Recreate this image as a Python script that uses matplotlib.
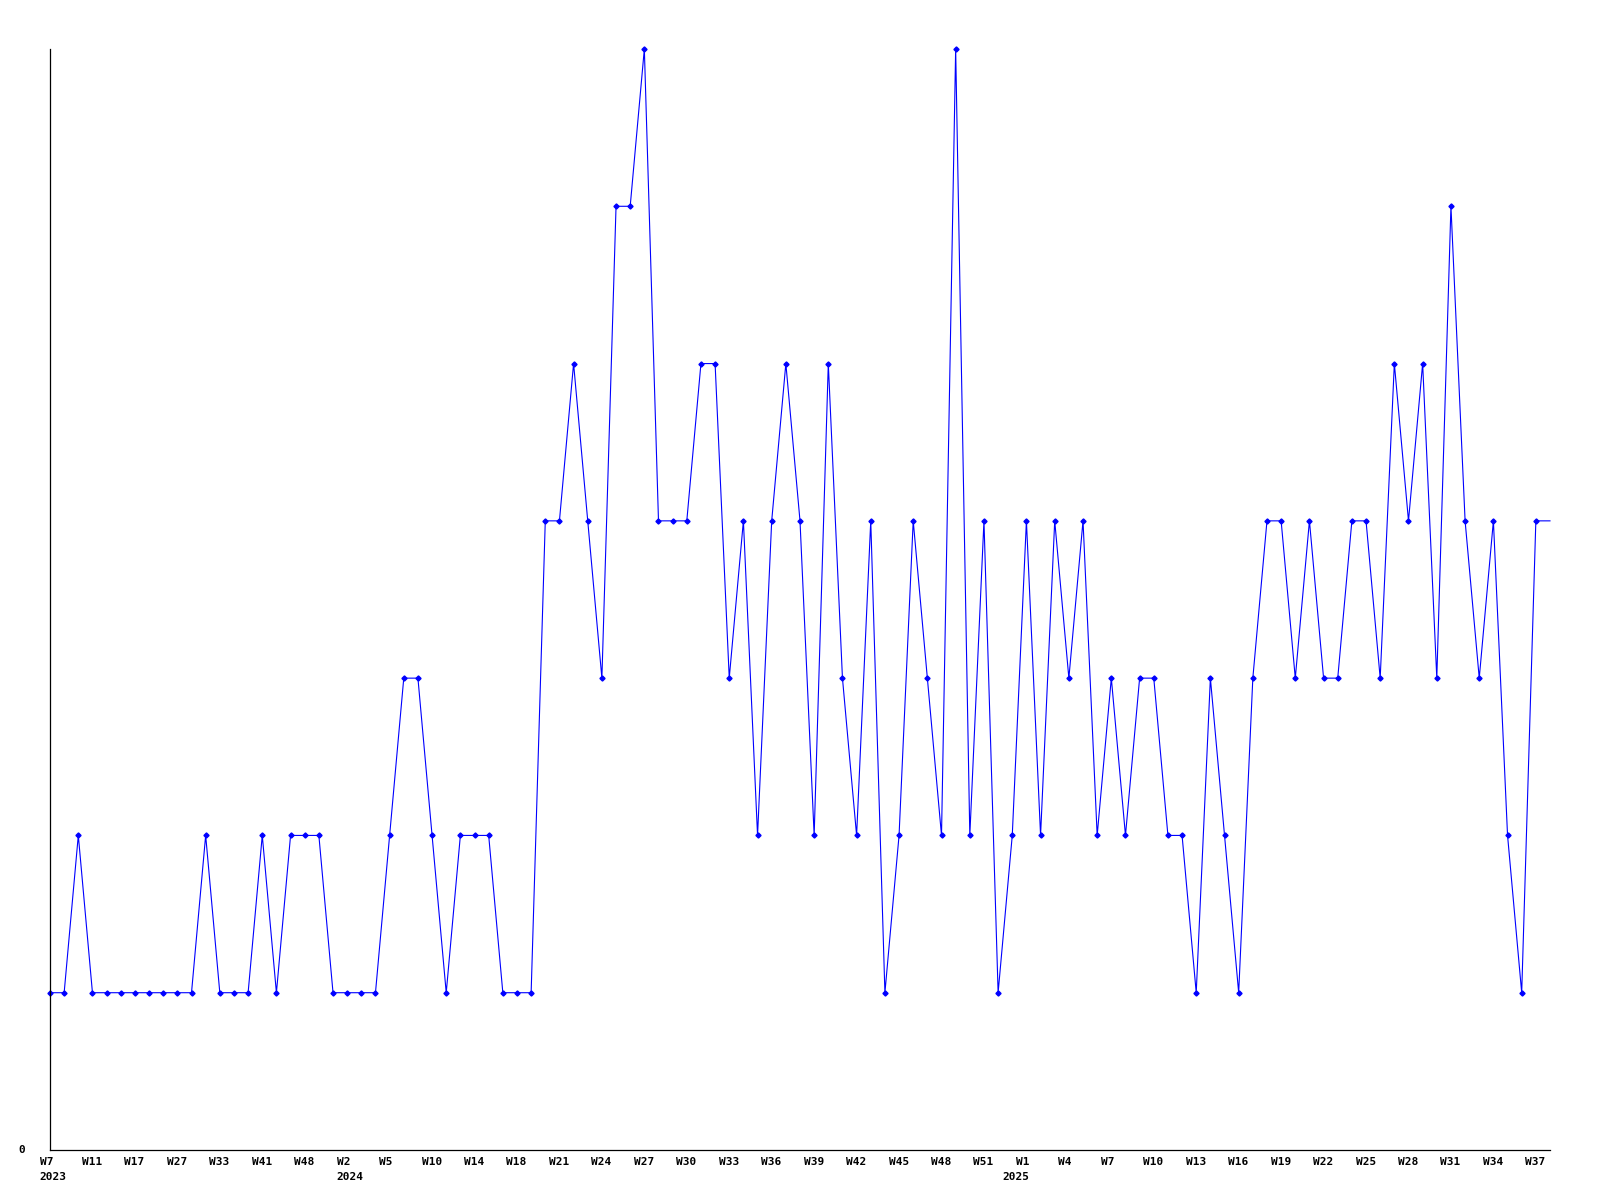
import matplotlib
matplotlib.use("Agg")
import matplotlib.pyplot as plt

values = [1, 1, 2, 1, 1, 1, 1, 1, 1, 1,
          1, 2, 1, 1, 1, 2, 1, 2, 2, 2,
          1, 1, 1, 1, 2, 3, 3, 2, 1, 2,
          2, 2, 1, 1, 1, 4, 4, 5, 4, 3,
          6, 6, 7, 4, 4, 4, 5, 5, 3, 4,
          2, 4, 5, 4, 2, 5, 3, 2, 4, 1,
          2, 4, 3, 2, 7, 2, 4, 1, 2, 4,
          2, 4, 3, 4, 2, 3, 2, 3, 3, 2,
          2, 1, 3, 2, 1, 3, 4, 4, 3, 4,
          3, 3, 4, 4, 3, 5, 4, 5, 3, 6,
          4, 3, 4, 2, 1, 4, 4]

week_labels = ["W7", "W11", "W17", "W27", "W33", "W41", "W48", "W2", "W5", "W10",
               "W14", "W18", "W21", "W24", "W27", "W30", "W33", "W36", "W39", "W42",
               "W45", "W48", "W51", "W1", "W4", "W7", "W10", "W13", "W16", "W19",
               "W22", "W25", "W28", "W31", "W34", "W37"]
label_step = 3
year_labels = {0: "2023", 21: "2024", 69: "2025"}

font = dict(family="DejaVu Sans Mono", fontweight="bold", fontsize=8)

fig = plt.figure(figsize=(16, 12), dpi=100)
ax = fig.add_axes([50 / 1600, 1 - 1150 / 1200, 1500 / 1600, 1101 / 1200])

x = list(range(len(values)))
ax.plot(x, values, color="#0000ff", linewidth=0.8, marker="D", markersize=2.6,
        markevery=list(range(len(values) - 1)), clip_on=False)

ax.set_xlim(0, len(values) - 1)
ax.set_ylim(0, 7)
for s in ["top", "right"]:
    ax.spines[s].set_visible(False)
for s in ["left", "bottom"]:
    ax.spines[s].set_linewidth(0.9)
    ax.spines[s].set_color("black")
ax.set_xticks([])
ax.set_yticks([])

for k, lab in enumerate(week_labels):
    i = k * label_step
    ax.annotate(lab, xy=(i, 0), xycoords=("data", "axes fraction"),
                xytext=(-10.5, -12), textcoords="offset pixels",
                ha="left", va="center", **font)
for i, yr in year_labels.items():
    lab = week_labels[i // label_step]
    if i == 69:
        ax.annotate(yr, xy=(i, 0), xycoords=("data", "axes fraction"),
                    xytext=(-24, -27.5), textcoords="offset pixels",
                    ha="left", va="center", **font)
    else:
        ax.annotate(yr, xy=(i, 0), xycoords=("data", "axes fraction"),
                    xytext=(-10.5, -27.5), textcoords="offset pixels",
                    ha="left", va="center", **font)

ax.annotate("0", xy=(0, 0), xycoords="axes fraction", xytext=(-25, 0),
            textcoords="offset pixels", ha="right", va="center", **font)

fig.savefig("out.png", dpi=100, facecolor="white")
